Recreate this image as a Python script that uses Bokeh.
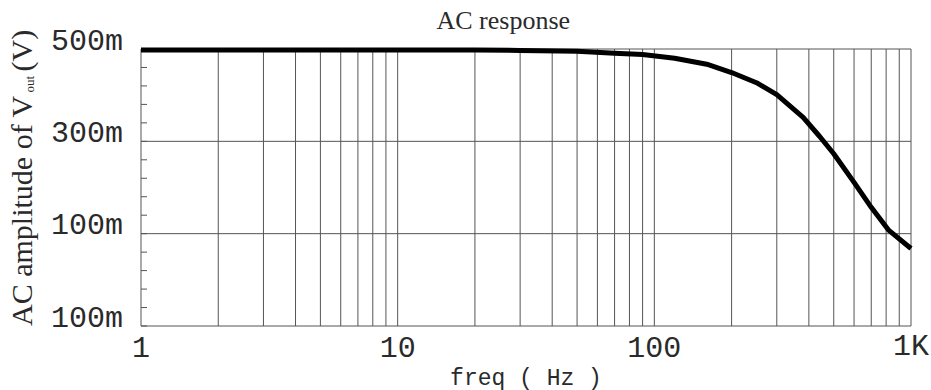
import math
from bokeh.plotting import figure
from bokeh.models import Label, Range1d
from bokeh.core.properties import value
from bokeh.embed import file_html
from bokeh.resources import INLINE

# ---- data ----
freq = [1, 2, 5, 10, 20, 30, 50, 70, 90, 120, 160, 200, 250, 300, 380, 440, 500, 600, 700, 820, 1000]
amp = [0.498, 0.498, 0.498, 0.498, 0.498, 0.497, 0.495, 0.491, 0.488, 0.480, 0.467, 0.449,
       0.427, 0.401, 0.352, 0.311, 0.273, 0.211, 0.157, 0.107, 0.068]

xtick_values = [1, 10, 100, 1000]
xtick_labels = ["1", "10", "100", "1K"]
xminor_values = [m * d for d in (1, 10, 100) for m in range(2, 10)]

ytick_values = [-0.1, 0.1, 0.3, 0.5]
ytick_labels = ["100m", "100m", "300m", "500m"]
yminor_values = [round(-0.1 + 0.04 * i, 2) for i in range(16)]

title_text = "AC response"
xlabel_text = "freq ( Hz )"
ylabel_main = "AC amplitude of V"
ylabel_sub = "out"
ylabel_tail = "(V)"

# ---- layout / style ----
W, H = 931, 390
PLOT_L, PLOT_R, PLOT_T, PLOT_B = 140.5, 910.5, 48.5, 325.5   # plot area in canvas pixels
X0, X1 = 1, 1000
Y0, Y1 = -0.1, 0.5
GRID = "#555555"
INK = "#2a2a2a"
MONO = "Liberation Mono"
SERIF = "Liberation Serif"

# extend the ranges so that the whole canvas is the frame and the plot area sits where it should
px_per_decade = (PLOT_R - PLOT_L) / (math.log10(X1) - math.log10(X0))
x_start = 10 ** (math.log10(X0) - PLOT_L / px_per_decade)
x_end = 10 ** (math.log10(X1) + (W - PLOT_R) / px_per_decade)
per_px = (Y1 - Y0) / (PLOT_B - PLOT_T)
y_start = Y0 - (H - PLOT_B) * per_px
y_end = Y1 + PLOT_T * per_px

p = figure(width=W, height=H, x_axis_type="log",
           x_range=Range1d(x_start, x_end), y_range=Range1d(y_start, y_end),
           x_axis_location=None, y_axis_location=None, title=None,
           output_backend="svg", toolbar_location=None,
           min_border=0, min_border_left=0, min_border_right=0,
           min_border_top=0, min_border_bottom=0)
p.grid.visible = False
p.outline_line_color = None
p.background_fill_color = "white"
p.border_fill_color = "white"

# grid lines (also form the frame at the range ends)
xgrid_values = sorted(xtick_values + xminor_values)
p.segment(x0=xgrid_values, y0=Y0, x1=xgrid_values, y1=Y1, line_color=GRID, line_width=1)
p.segment(x0=X0, y0=ytick_values, x1=X1, y1=ytick_values, line_color=GRID, line_width=1)

# inward minor ticks on the left edge
p.ray(x=X0, y=yminor_values, length=6, length_units="screen", angle=0,
      line_color=GRID, line_width=1)

# curve
p.line(freq, amp, line_color="black", line_width=5)

# tick labels
p.text(x=xtick_values, y=Y0, text=xtick_labels, y_offset=21,
       text_font=value(MONO), text_font_size="30px", text_color=INK,
       text_align="center", text_baseline="alphabetic")
p.text(x=X0, y=ytick_values, text=ytick_labels, x_offset=-18, y_offset=-7.5,
       text_font=value(MONO), text_font_size="30px", text_color=INK,
       text_align="right", text_baseline="alphabetic")

# axis titles and chart title (screen units, origin at bottom-left of the canvas)
p.add_layout(Label(x=(PLOT_L + PLOT_R) / 2, y=H - 378, x_units="screen", y_units="screen",
                   text=xlabel_text, text_font=MONO, text_font_size="23px", text_color=INK,
                   text_align="center", text_baseline="alphabetic"))
p.add_layout(Label(x=436, y=H - 19.5, x_units="screen", y_units="screen",
                   text=title_text, text_font=SERIF, text_font_size="26px", text_color=INK,
                   text_align="left", text_baseline="alphabetic"))
p.add_layout(Label(x=21.4, y=H - 325.5, x_units="screen", y_units="screen",
                   text=ylabel_main, angle=math.pi / 2, text_font=SERIF,
                   text_font_size="30px", text_color=INK,
                   text_align="left", text_baseline="alphabetic"))
p.add_layout(Label(x=28.6, y=H - 92, x_units="screen", y_units="screen",
                   text=ylabel_sub, angle=math.pi / 2, text_font=SERIF,
                   text_font_size="13px", text_color=INK,
                   text_align="left", text_baseline="alphabetic"))
p.add_layout(Label(x=21.4, y=H - 71, x_units="screen", y_units="screen",
                   text=ylabel_tail, angle=math.pi / 2, text_font=SERIF,
                   text_font_size="30px", text_color=INK,
                   text_align="left", text_baseline="alphabetic"))

open("out.html", "w").write(file_html(p, INLINE))
